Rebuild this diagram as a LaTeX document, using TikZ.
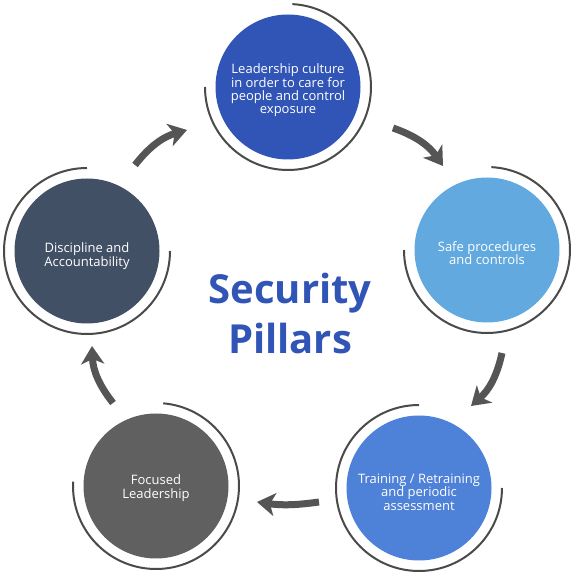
\documentclass[tikz,border=0pt]{standalone}
\usepackage{fontspec}
\setmainfont{Open Sans}
\usetikzlibrary{arrows.meta}
\definecolor{cA}{HTML}{3155B6}
\definecolor{cB}{HTML}{62A9DF}
\definecolor{cC}{HTML}{4E81D8}
\definecolor{cD}{HTML}{606060}
\definecolor{cE}{HTML}{425066}
\definecolor{ringgray}{HTML}{4A4A4A}
\definecolor{arrowgray}{HTML}{555555}
\begin{document}
\begin{tikzpicture}[x=1pt,y=1pt,
  pillar/.style={circle, minimum size=145pt, inner sep=0pt},
  ptext/.style={text=white, align=center, inner sep=0pt,
    font=\fontsize{13}{13.3}\selectfont},
  ring/.style={line width=2pt, draw=ringgray},
  flow/.style={line width=7pt, draw=arrowgray,
    -{Stealth[length=18pt,width=23pt,inset=5pt]}}]
\useasboundingbox (0,0) rectangle (576,576);
\fill[white] (0,0) rectangle (576,576);
% pillars
\node[pillar, fill=cA] (lead) at (288,489) {};
\node[pillar, fill=cB] (safe) at (487,326) {};
\node[pillar, fill=cC] (train) at (419,88) {};
\node[pillar, fill=cD] (focus) at (156,90) {};
\node[pillar, fill=cE] (disc) at (87,325) {};
\node[ptext] (leadt) at ([yshift=-3.5pt]lead.center) {Leadership culture\\in order to care for\\people and control\\exposure};
\node[ptext] (safet) at ([yshift=-3pt]safe.center) {Safe procedures\\and controls};
\node[ptext] (traint) at ([yshift=-4pt]train.center) {Training / Retraining\\and periodic\\assessment};
\node[ptext] (focust) at ([yshift=-2pt]focus.center) {Focused\\Leadership};
\node[ptext] (disct) at ([yshift=-5pt]disc.center) {Discipline and\\Accountability};
% rings
\draw[ring] (lead.center) ++(87:83) arc[start angle=87, end angle=-180, radius=83];
\draw[ring] (safe.center) ++(87:83) arc[start angle=87, end angle=-180, radius=83];
\draw[ring] (train.center) ++(90:83) arc[start angle=90, end angle=360, radius=83];
\draw[ring] (focus.center) ++(85:83) arc[start angle=85, end angle=-183, radius=83];
\draw[ring] (disc.center) ++(90:83) arc[start angle=90, end angle=360, radius=83];
% title
\node[font=\fontsize{40}{50}\selectfont\bfseries, text=cA, align=center] (title) at (290,262) {Security\\Pillars};
% arrow ends
\coordinate (a1s) at (135,411); \coordinate (a1e) at (187,446);
\coordinate (a2s) at (393,448); \coordinate (a2e) at (443,410);
\coordinate (a3s) at (502,223); \coordinate (a3e) at (471,170);
\coordinate (a4s) at (319,74);  \coordinate (a4e) at (257,74);
\coordinate (a5s) at (113,173); \coordinate (a5e) at (92,230);
\draw[flow] (a1s) to[bend left=18] (a1e);
\draw[flow] (a2s) to[bend left=18] (a2e);
\draw[flow] (a3s) to[bend left=18] (a3e);
\draw[flow] (a4s) to[bend left=8] (a4e);
\draw[flow] (a5s) to[bend left=18] (a5e);
\end{tikzpicture}
\end{document}
